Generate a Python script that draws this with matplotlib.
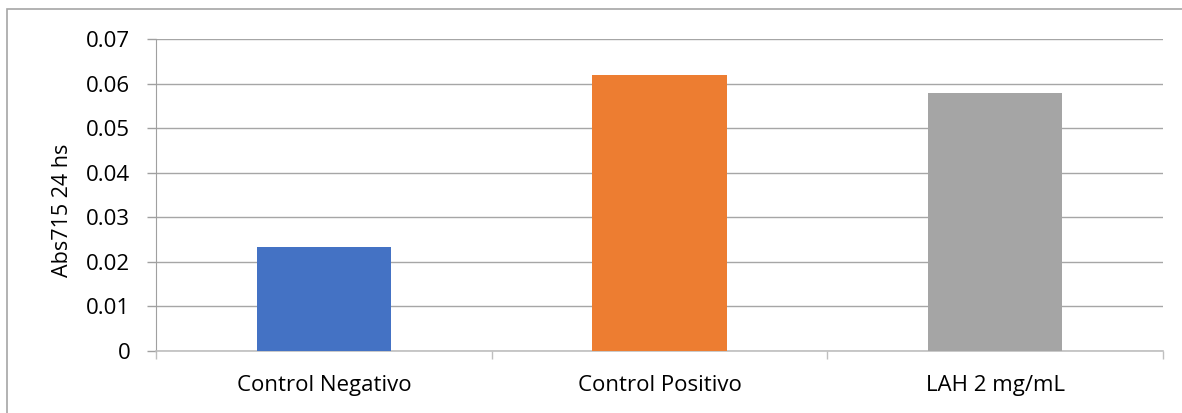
import matplotlib.pyplot as plt
import numpy as np
from matplotlib.patches import Rectangle

# data ------------------------------------------------------------
categories = ['Control Negativo', 'Control Positivo', 'LAH 2 mg/mL']
abs715 = [0.0234, 0.0619, 0.0578]
colors = ['#4472C4', '#ED7D31', '#A5A5A5']
yticks = [0, 0.01, 0.02, 0.03, 0.04, 0.05, 0.06, 0.07]
ytick_labels = ['0', '0.01', '0.02', '0.03', '0.04', '0.05', '0.06', '0.07']

plt.rcParams['font.family'] = ['Open Sans', 'DejaVu Sans']

fig = plt.figure(figsize=(11.82, 4.13), dpi=100)
ax = fig.add_axes([0.132, 0.150, 0.852, 0.7556])

# outer chart frame
fig.patches.append(Rectangle((7 / 1182, -0.1), 1.2, 1 - 9 / 413 + 0.1,
                             transform=fig.transFigure, fill=False,
                             edgecolor='#A6A6A6', linewidth=1.2))

x = np.arange(len(categories))
ax.bar(x, abs715, width=0.4, color=colors, zorder=3)

ax.set_xlim(-0.5, len(categories) - 0.5)
ax.set_ylim(0, 0.07)
ax.set_yticks(yticks)
ax.set_yticklabels(ytick_labels, fontsize=16)
ax.set_xticks(x)
ax.set_xticklabels(categories, fontsize=16)
ax.set_xticks(np.arange(-0.5, len(categories)), minor=True)
ax.tick_params(axis='x', which='major', length=0, pad=17)
ax.tick_params(axis='x', which='minor', length=6, color='#BFBFBF', width=1)
ax.tick_params(axis='y', length=6.5, color='#A0A0A0', width=1, pad=12)

ax.yaxis.grid(True, color='#A6A6A6', linewidth=1, zorder=0)
ax.set_axisbelow(True)
for side in ['top', 'right']:
    ax.spines[side].set_visible(False)
ax.spines['left'].set_color('#A0A0A0')
ax.spines['bottom'].set_color('#BFBFBF')
ax.spines['bottom'].set_linewidth(1.2)

ax.set_ylabel('Abs715 24 hs', fontsize=15.5)
ax.yaxis.set_label_coords(-0.0825, 0.45)

fig.savefig('out.png', dpi=100)
